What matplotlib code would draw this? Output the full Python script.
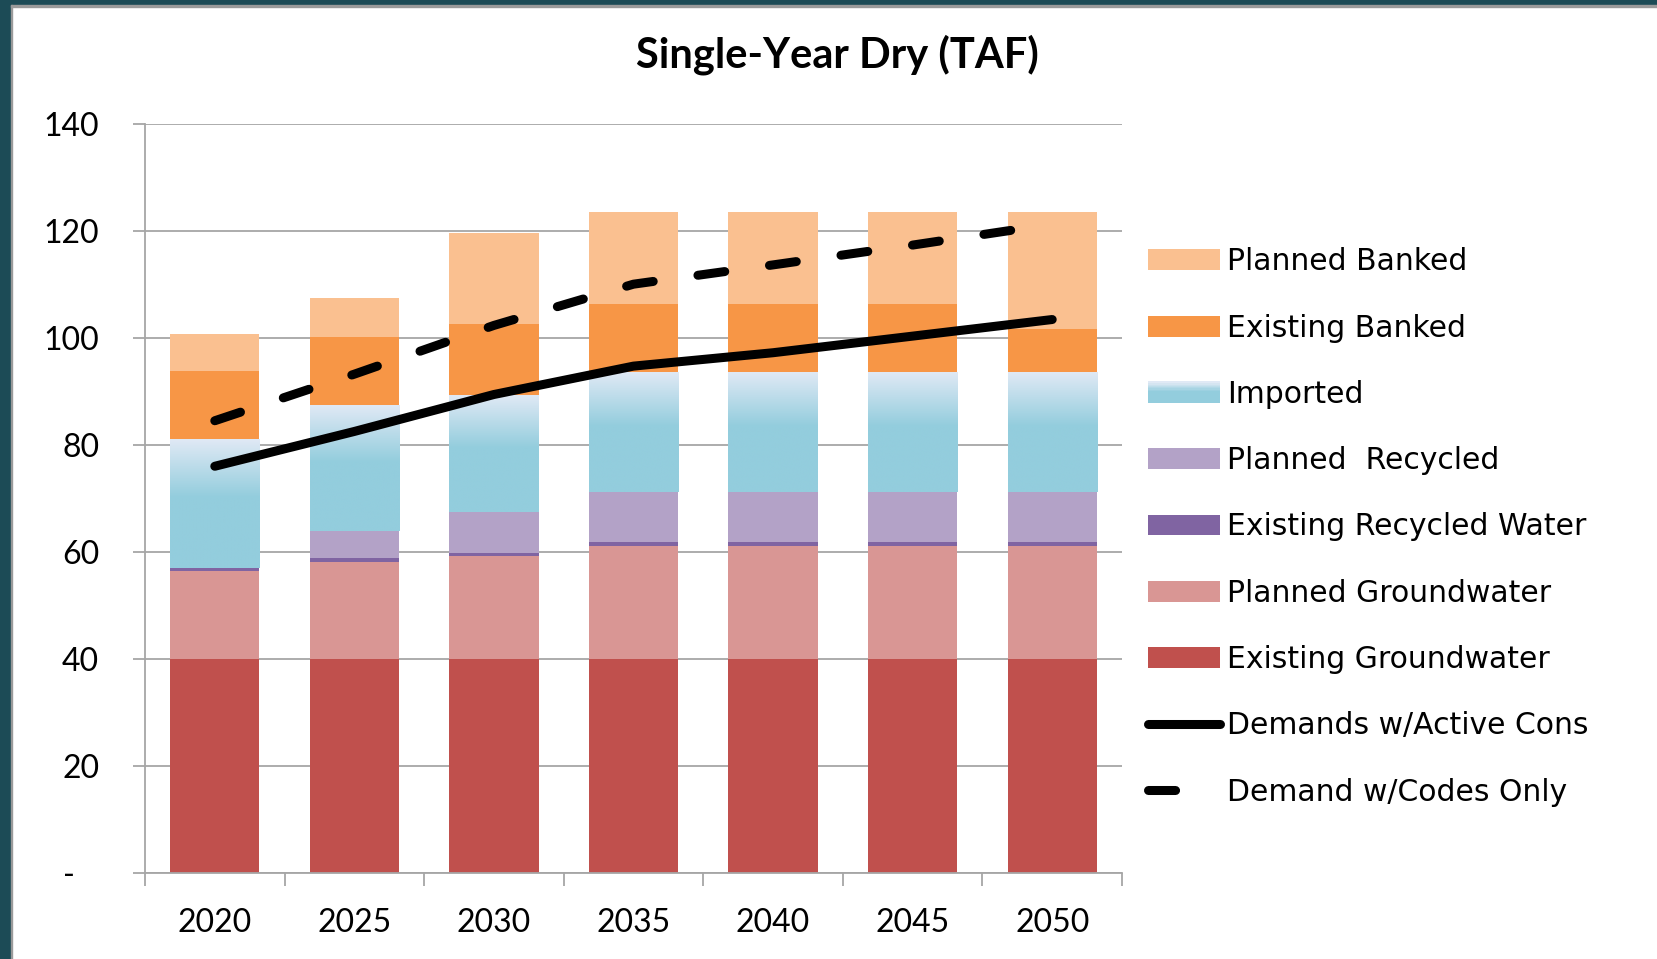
import numpy as np
import matplotlib
matplotlib.use('Agg')
import matplotlib.pyplot as plt
from matplotlib.patches import Rectangle, Patch
from matplotlib.lines import Line2D
from matplotlib.legend_handler import HandlerBase
from matplotlib.colors import LinearSegmentedColormap

plt.rcParams['font.family'] = ['Lato', 'DejaVu Sans']

# data (TAF)
years = ['2020', '2025', '2030', '2035', '2040', '2045', '2050']
existing_gw = [40, 40, 40, 40, 40, 40, 40]
planned_gw = [16.4, 18.2, 19.2, 21.2, 21.2, 21.2, 21.2]
existing_rec = [0.6, 0.6, 0.6, 0.6, 0.6, 0.6, 0.6]
planned_rec = [0, 5.1, 7.7, 9.4, 9.4, 9.4, 9.4]
imported = [23.9, 23.5, 21.8, 22.3, 22.3, 22.3, 22.3]
existing_banked = [12.9, 12.8, 13.2, 12.8, 12.8, 12.8, 8.1]
planned_banked = [6.9, 7.3, 17.0, 17.1, 17.1, 17.1, 21.8]
demand_active = [76.0, 82.5, 89.4, 94.7, 97.2, 100.3, 103.4]
demand_codes = [84.5, 93.2, 102.3, 110.0, 113.6, 117.3, 121.2]

ytick_vals = [0, 20, 40, 60, 80, 100, 120, 140]
ytick_labels = ['-   ', '20', '40', '60', '80', '100', '120', '140']

layers = [
    (existing_gw, 'Existing Groundwater', '#c0504d'),
    (planned_gw, 'Planned Groundwater', '#d99694'),
    (existing_rec, 'Existing Recycled Water', '#8064a2'),
    (planned_rec, 'Planned  Recycled', '#b3a2c7'),
    (imported, 'Imported', '#93cddd'),
    (existing_banked, 'Existing Banked', '#f79646'),
    (planned_banked, 'Planned Banked', '#fac090'),
]

grad_cmap = LinearSegmentedColormap.from_list(
    'imp', [(0, '#93cddd'), (0.55, '#93cddd'), (1, '#e0e9f5')])

fig = plt.figure(figsize=(16.58, 9.59), dpi=100)
ax = fig.add_axes([145 / 1658, 1 - 873.3 / 959, 977 / 1658, 749.8 / 959])

x = np.arange(len(years))
bottom = np.zeros(len(years))
imported_bars = None
for vals, label, color in layers:
    bars = ax.bar(x, vals, width=0.64, bottom=bottom, color=color, zorder=2)
    if label == 'Imported':
        imported_bars = bars
    bottom += np.array(vals)

# gradient on the imported segments
grad = np.linspace(0, 1, 256).reshape(-1, 1)
for b in imported_bars:
    x0, y0, w, h = b.get_x(), b.get_y(), b.get_width(), b.get_height()
    ax.imshow(grad, cmap=grad_cmap, extent=[x0, x0 + w, y0, y0 + h],
              origin='lower', aspect='auto', zorder=2.5, interpolation='bilinear')

ax.plot(x, demand_active, color='black', lw=6.5, solid_capstyle='round', zorder=4)
ax.plot(x, demand_codes, color='black', lw=6.5, dashes=(3.0, 5.0),
        dash_capstyle='round', zorder=4)

ax.set_xlim(-0.5, len(years) - 0.5)
ax.set_ylim(0, 140)
ax.set_yticks(ytick_vals)
ax.set_yticklabels(ytick_labels, fontsize=23)
ax.set_xticks(np.arange(-0.5, len(years), 1))
ax.set_xticklabels([])
ax.set_xticks(x, minor=True)
ax.set_xticklabels(years, minor=True, fontsize=23)
ax.tick_params(axis='x', which='major', length=9, width=1.3, color='#a6a6a6')
ax.tick_params(axis='x', which='minor', length=0, pad=25)
ax.tick_params(axis='y', length=9, width=1.3, color='#a6a6a6', pad=24)
ax.yaxis.grid(True, color='#a6a6a6', lw=1.3, zorder=0)
ax.set_axisbelow(True)
for s in ['top', 'right']:
    ax.spines[s].set_visible(False)
for s in ['left', 'bottom']:
    ax.spines[s].set_color('#a6a6a6')
    ax.spines[s].set_linewidth(1.3)

fig.text(837 / 1658, 1 - 55 / 959, 'Single-Year Dry (TAF)', ha='center', va='center',
         fontsize=30, fontweight='bold')


class GradientHandler(HandlerBase):
    def create_artists(self, legend, orig_handle, xdescent, ydescent, width, height,
                       fontsize, trans):
        n = 16
        arts = []
        for i in range(n):
            arts.append(Rectangle((-xdescent, -ydescent + height * i / n), width,
                                  height / n + 0.4, facecolor=grad_cmap(i / (n - 1)),
                                  edgecolor='none', transform=trans))
        return arts


handles = []
labels = []
imp_handle = None
for vals, label, color in reversed(layers):
    h = Patch(facecolor=color, edgecolor='none')
    if label == 'Imported':
        imp_handle = h
    handles.append(h)
    labels.append(label)
handles.append(Line2D([], [], color='black', lw=6.5, solid_capstyle='round'))
labels.append('Demands w/Active Cons')
handles.append(Line2D([], [], color='black', lw=6.5, dashes=(3.0, 5.0), dash_capstyle='round'))
labels.append('Demand w/Codes Only')

fig.legend(handles, labels, loc='center left', bbox_to_anchor=(1148 / 1658, 1 - 527 / 959),
           frameon=False, prop={'family': 'DejaVu Sans', 'size': 21.5}, borderpad=0,
           borderaxespad=0, handlelength=2.4, handleheight=0.7, handletextpad=0.25,
           labelspacing=1.25, handler_map={imp_handle: GradientHandler()})

# dark frame edge on left and top
fig.patches.append(Rectangle((0, 0), 11 / 1658, 1, transform=fig.transFigure,
                             color='#1c4b56', zorder=10))
fig.patches.append(Rectangle((0, 1 - 5 / 959), 1, 5 / 959, transform=fig.transFigure,
                             color='#1c4b56', zorder=10))
fig.patches.append(Rectangle((11 / 1658, 0), 1.5 / 1658, 1 - 5 / 959, transform=fig.transFigure,
                             color='#9a9a9a', zorder=10))
fig.patches.append(Rectangle((11 / 1658, 1 - 6.5 / 959), 1, 1.5 / 959, transform=fig.transFigure,
                             color='#9a9a9a', zorder=10))

fig.savefig('out.png', dpi=100)
